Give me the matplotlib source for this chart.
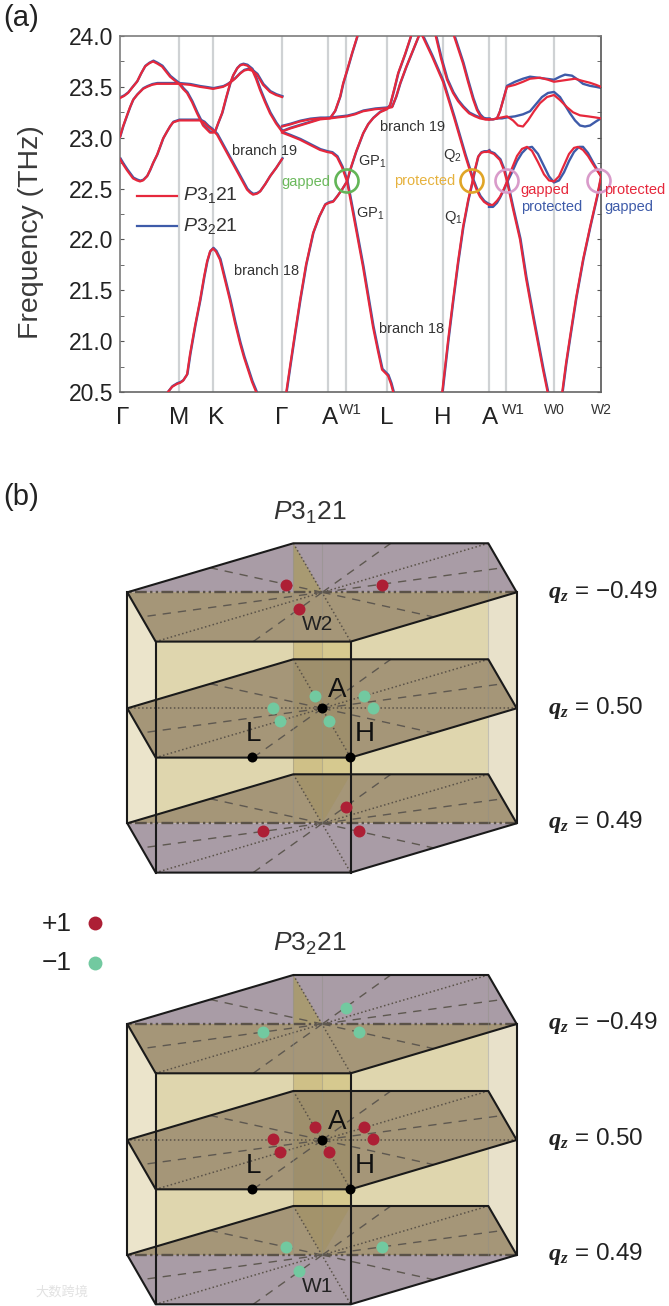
import matplotlib
matplotlib.use("Agg")
import matplotlib.pyplot as plt
from matplotlib.patches import Circle, Polygon
from matplotlib.ticker import MultipleLocator
from matplotlib.transforms import ScaledTranslation, offset_copy

plt.rcParams['font.family'] = ['Liberation Sans', 'Noto Sans CJK SC']
plt.rcParams['mathtext.fontset'] = 'custom'
plt.rcParams['mathtext.rm'] = 'Liberation Sans'
plt.rcParams['mathtext.it'] = 'Liberation Sans:italic'
plt.rcParams['mathtext.bfit'] = 'Liberation Serif:italic:bold'

RED = '#e6283c'
BLUE = '#3e5ba9'
DOT_RED = '#ad1f35'
DOT_GREEN = '#72c9a0'

# k-path positions of the high symmetry points
sym_x = [0, 59, 93, 162, 208, 226, 267, 323, 369, 386, 434, 481]
tick_x = [0, 59, 93, 162, 208, 267, 323, 369]
tick_names = ['Γ', 'M', 'K', 'Γ', 'A', 'L', 'H', 'A']

# Γ-M-K-Γ
low_x = [0, 3, 7, 10, 13, 17, 20, 23, 27, 30, 33, 37, 40, 43, 47, 50, 53, 59, 70, 80, 84, 88, 92, 97, 102, 107, 112, 117, 122, 127, 130, 133, 137, 140, 145, 150, 156, 162]
low_f = [22.79, 22.74, 22.68, 22.64, 22.60, 22.58, 22.57, 22.58, 22.62, 22.68, 22.75, 22.83, 22.91, 22.99, 23.06, 23.11, 23.15, 23.17, 23.17, 23.17, 23.15, 23.11, 23.08, 23.03, 22.94, 22.85, 22.76, 22.67, 22.58, 22.49, 22.46, 22.44, 22.45, 22.47, 22.54, 22.62, 22.70, 22.79]
mid_x = [0, 3, 7, 10, 13, 17, 20, 23, 27, 32, 37, 45, 59, 70, 80, 87, 93, 98, 103, 107, 110, 115, 120, 124, 128, 132, 137, 140, 143, 147, 150, 156, 162]
mid_f = [23.01, 23.11, 23.22, 23.30, 23.37, 23.42, 23.45, 23.48, 23.50, 23.52, 23.53, 23.53, 23.53, 23.52, 23.50, 23.49, 23.48, 23.49, 23.50, 23.52, 23.54, 23.58, 23.63, 23.66, 23.67, 23.66, 23.62, 23.57, 23.52, 23.48, 23.45, 23.42, 23.40]
top_x = [0, 4, 8, 12, 17, 21, 25, 29, 33, 37, 42, 46, 50, 55, 59, 63, 67, 72, 77, 80, 83, 87, 90, 93, 95, 98, 102, 106, 110, 113, 117, 120, 123, 127, 132, 136, 140, 145, 150, 156, 162]
top_f = [23.39, 23.41, 23.44, 23.49, 23.55, 23.63, 23.70, 23.73, 23.75, 23.73, 23.70, 23.65, 23.60, 23.56, 23.53, 23.48, 23.44, 23.35, 23.24, 23.18, 23.12, 23.08, 23.05, 23.05, 23.06, 23.14, 23.24, 23.39, 23.53, 23.61, 23.68, 23.71, 23.72, 23.71, 23.67, 23.58, 23.47, 23.35, 23.24, 23.14, 23.06]
peak_x = [48, 52, 57, 60, 63, 67, 70, 75, 80, 84, 87, 90, 93, 96, 100, 105, 110, 115, 120, 124, 128, 132, 137]
peak_f = [20.50, 20.55, 20.58, 20.59, 20.61, 20.67, 20.87, 21.15, 21.40, 21.63, 21.78, 21.88, 21.91, 21.88, 21.80, 21.60, 21.40, 21.18, 20.98, 20.84, 20.72, 20.60, 20.48]

# Γ-A-W1-L-H-A
up1_x = [162, 170, 180, 190, 200, 210, 215, 220, 223, 227, 232, 238]
up1_f = [23.06, 23.09, 23.12, 23.15, 23.18, 23.19, 23.26, 23.40, 23.53, 23.66, 23.83, 24.02]
up2_x = [162, 170, 180, 190, 200, 210, 218, 227, 235, 243, 255, 267, 272, 276, 280, 286, 293, 300]
up2_f = [23.11, 23.13, 23.16, 23.18, 23.19, 23.19, 23.20, 23.21, 23.23, 23.26, 23.28, 23.29, 23.30, 23.40, 23.53, 23.69, 23.86, 24.03]
down_x = [162, 170, 180, 190, 200, 207, 212, 217, 222, 227, 233, 243, 253, 258, 262, 265, 268, 271, 274]
down_f = [23.05, 23.02, 22.98, 22.93, 22.88, 22.86, 22.85, 22.81, 22.71, 22.57, 22.26, 21.73, 21.14, 20.90, 20.72, 20.69, 20.66, 20.58, 20.47]
rise_x = [166, 170, 175, 180, 186, 193, 199, 205, 209, 213, 217, 222, 227, 230, 236, 243, 248, 253, 260, 267, 270, 274, 278, 285, 292]
rise_f = [20.48, 20.75, 21.08, 21.40, 21.75, 22.06, 22.22, 22.34, 22.36, 22.37, 22.42, 22.49, 22.57, 22.68, 22.86, 23.04, 23.13, 23.19, 23.25, 23.28, 23.32, 23.47, 23.63, 23.82, 24.03]
fall1_x = [301, 312, 323, 334, 345, 353, 357, 360, 364, 367, 369]
fall1_f = [24.03, 23.80, 23.55, 23.20, 22.83, 22.58, 22.48, 22.42, 22.37, 22.35, 22.34]
fall2_x = [315, 321, 327, 333, 338, 343, 349, 355, 360, 365, 369]
fall2_f = [24.03, 23.78, 23.57, 23.44, 23.36, 23.30, 23.24, 23.21, 23.19, 23.18, 23.18]
fall3_x = [333, 338, 343, 348, 353, 357, 360, 363, 366, 369]
fall3_f = [24.03, 23.88, 23.73, 23.55, 23.38, 23.27, 23.22, 23.19, 23.18, 23.18]
hrise_x = [322, 328, 333, 338, 343, 348, 352, 355, 358, 361, 364, 367, 369]
hrise_f = [20.48, 21.00, 21.40, 21.78, 22.12, 22.38, 22.55, 22.69, 22.81, 22.85, 22.86, 22.86, 22.87]

# A-W1-W0-W2, the two structures split here
a_down_x = [369, 374, 380, 384, 387, 393, 400, 406, 413, 418, 423, 428]
a_down_f = [22.86, 22.84, 22.78, 22.68, 22.57, 22.30, 22.00, 21.62, 21.24, 20.98, 20.72, 20.48]
w_rise_x = [442, 446, 450, 456, 463, 470, 477, 481]
w_rise_f = [20.48, 20.78, 21.04, 21.42, 21.80, 22.12, 22.42, 22.62]

wave_red_x = [369, 373, 377, 380, 384, 387, 392, 397, 402, 407, 412, 418, 424, 429, 434, 439, 444, 449, 454, 458, 463, 468, 473, 477, 481]
wave_red_f = [22.34, 22.34, 22.38, 22.42, 22.50, 22.57, 22.70, 22.82, 22.89, 22.91, 22.87, 22.76, 22.64, 22.58, 22.57, 22.62, 22.73, 22.84, 22.90, 22.91, 22.88, 22.82, 22.74, 22.68, 22.62]
wave_blue_x = [369, 373, 377, 380, 384, 387, 392, 397, 402, 407, 412, 418, 424, 429, 434, 439, 444, 449, 454, 459, 463, 468, 473, 477, 481]
wave_blue_f = [22.32, 22.32, 22.36, 22.41, 22.49, 22.56, 22.66, 22.77, 22.85, 22.90, 22.91, 22.84, 22.72, 22.62, 22.56, 22.58, 22.66, 22.77, 22.86, 22.91, 22.91, 22.85, 22.76, 22.69, 22.62]
up_red_x = [369, 373, 377, 380, 384, 387, 395, 403, 410, 420, 428, 434, 441, 448, 455, 462, 470, 476, 481]
up_red_f = [23.18, 23.18, 23.19, 23.26, 23.40, 23.50, 23.52, 23.55, 23.58, 23.59, 23.57, 23.55, 23.56, 23.57, 23.58, 23.56, 23.54, 23.52, 23.50]
up_blue_x = [369, 373, 377, 380, 384, 387, 395, 403, 410, 418, 426, 434, 440, 445, 452, 458, 463, 470, 476, 481]
up_blue_f = [23.18, 23.18, 23.19, 23.26, 23.40, 23.51, 23.55, 23.58, 23.60, 23.59, 23.58, 23.57, 23.60, 23.62, 23.61, 23.57, 23.53, 23.51, 23.50, 23.49]
low2_red_x = [377, 382, 387, 393, 398, 403, 408, 414, 420, 427, 434, 440, 447, 453, 460, 468, 475, 481]
low2_red_f = [23.19, 23.20, 23.21, 23.17, 23.12, 23.11, 23.17, 23.26, 23.34, 23.40, 23.42, 23.37, 23.30, 23.25, 23.22, 23.21, 23.20, 23.19]
low2_blue_x = [377, 382, 387, 395, 403, 410, 416, 422, 428, 434, 440, 445, 450, 455, 460, 465, 470, 476, 481]
low2_blue_f = [23.19, 23.19, 23.20, 23.21, 23.23, 23.26, 23.33, 23.40, 23.44, 23.45, 23.40, 23.32, 23.24, 23.17, 23.12, 23.11, 23.12, 23.16, 23.19]

shared_bands = [(low_x, low_f), (mid_x, mid_f), (top_x, top_f), (peak_x, peak_f),
                (up1_x, up1_f), (up2_x, up2_f), (down_x, down_f), (rise_x, rise_f),
                (fall1_x, fall1_f), (fall2_x, fall2_f), (fall3_x, fall3_f), (hrise_x, hrise_f),
                (a_down_x, a_down_f), (w_rise_x, w_rise_f)]
blue_bands = [(wave_blue_x, wave_blue_f), (up_blue_x, up_blue_f), (low2_blue_x, low2_blue_f)]
red_bands = [(wave_red_x, wave_red_f), (up_red_x, up_red_f), (low2_red_x, low2_red_f)]

# Weyl points and high symmetry points on the Brillouin zone sketches (pixels)
p1_plus_x = [285.7, 381.7, 298.7, 262.7, 345.7, 359.3]
p1_plus_y = [584.7, 584.7, 609.0, 831.3, 806.7, 831.3]
p1_minus_x = [272.7, 280.3, 315.3, 364.3, 372.7, 329.0]
p1_minus_y = [708.0, 720.7, 695.7, 695.7, 708.3, 720.7]
p2_plus_x = [272.7, 280.3, 315.3, 364.3, 372.7, 329.0]
p2_plus_y = [1139.3, 1152.0, 1126.7, 1126.7, 1139.3, 1152.0]
p2_minus_x = [262.7, 345.7, 359.3, 286.0, 382.0, 298.7]
p2_minus_y = [1032.3, 1007.7, 1032.3, 1246.7, 1246.7, 1270.7]
sym_dot_x = [322.3, 251.7, 350.0]
p1_sym_y = [708.3, 757.3, 757.3]
p2_sym_y = [1140.0, 1189.0, 1189.0]
qz_names = ['−0.49', '0.50', '0.49']
p1_qz_y = [592, 708, 822]
p2_qz_y = [1023, 1139, 1254]

# hexagon corners: back left, back right, right, front right, front left, left
HEX_X = [293.3, 488.3, 516.7, 350.7, 155.7, 127.3]
HEX_DY = [0, 0, 49, 98.3, 98.3, 49]
CX = 322.3

fig = plt.figure(figsize=(6.69, 13.06), dpi=100)
ax = fig.add_axes([120 / 669, 1 - 392 / 1306, 481 / 669, 356 / 1306])
over = fig.add_axes([0, 0, 1, 1], zorder=5)
over.set_xlim(0, 669)
over.set_ylim(1306, 0)
over.axis('off')

# band panel
blue_trans = offset_copy(ax.transData, fig=fig, x=0.35, y=0.55, units='points')
for x in sym_x[1:-1]:
    ax.axvline(x, color='#cfd2d4', lw=1.6, zorder=1)
for x, f in shared_bands:
    ax.plot(x, f, color=BLUE, lw=1.7, transform=blue_trans, zorder=2)
for x, f in blue_bands:
    ax.plot(x, f, color=BLUE, lw=1.7, zorder=2)
for x, f in shared_bands + red_bands:
    ax.plot(x, f, color=RED, lw=1.6, zorder=3)

ax.set_xlim(0, 481)
ax.set_ylim(20.5, 24.0)
ax.set_xticks(tick_x)
ax.set_xticklabels(tick_names, fontsize=17.5, color='#222222')
ax.yaxis.set_major_locator(MultipleLocator(0.5))
ax.yaxis.set_minor_locator(MultipleLocator(0.25))
ax.tick_params(axis='x', length=0, pad=11)
ax.tick_params(axis='y', which='both', direction='in', left=True, right=True, length=3,
               color='#555555', labelsize=16.5, labelcolor='#222222', pad=5)
ax.set_yticks([20.5, 21, 21.5, 22, 22.5, 23, 23.5, 24])
ax.set_yticklabels(['20.5', '21.0', '21.5', '22.0', '22.5', '23.0', '23.5', '24.0'])
for name, sp in ax.spines.items():
    sp.set_color('#7d7d7d')
    sp.set_linewidth(1.2)
ax.spines['right'].set_color('#555555')
ax.spines['bottom'].set_color('#666666')
# some labels sit a little right of their lines
for lab, dx in zip(ax.get_xticklabels(), [3, 0, 3, 0, 2, 0, 0, 1]):
    lab.set_transform(lab.get_transform() + ScaledTranslation(dx / 100, 0, fig.dpi_scale_trans))

over.text(3, 18, '(a)', fontsize=21, va='center', color='#222222')
over.text(3, 497, '(b)', fontsize=21, va='center', color='#222222')
over.text(31, 232, 'Frequency (THz)', fontsize=20.5, rotation=90, ha='center', va='center', color='#3a3a3a')

over.plot([137, 177], [196, 196], color=RED, lw=1.6)
over.plot([137, 177], [226, 226], color=BLUE, lw=1.6)
over.text(183, 195, r'$\mathit{P}$3$_{\mathrm{1}}$21', fontsize=14, va='center', color='#333333')
over.text(183, 226, r'$\mathit{P}$3$_{\mathrm{2}}$21', fontsize=14, va='center', color='#333333')

for x, y, s in [(265, 151, 'branch 19'), (267, 271, 'branch 18'), (413, 127, 'branch 19'), (412, 329, 'branch 18')]:
    over.text(x, y, s, fontsize=10.5, ha='center', va='center', color='#333333')
for x, y, s in [(372, 162, 'GP$_{\\mathrm{1}}$'), (370, 214, 'GP$_{\\mathrm{1}}$'), (452, 156, 'Q$_{\\mathrm{2}}$'), (453, 217, 'Q$_{\\mathrm{1}}$')]:
    over.text(x, y, s, fontsize=10.5, ha='center', va='center', color='#333333')
over.text(306, 182, 'gapped', fontsize=10.5, ha='center', va='center', color='#6bb95c')
over.text(425, 181, 'protected', fontsize=10.5, ha='center', va='center', color='#e6b23e')
over.text(545, 190, 'gapped', fontsize=10.5, ha='center', va='center', color=RED)
over.text(552, 207, 'protected', fontsize=10.5, ha='center', va='center', color=BLUE)
over.text(635, 190, 'protected', fontsize=10.5, ha='center', va='center', color=RED)
over.text(629, 207, 'gapped', fontsize=10.5, ha='center', va='center', color=BLUE)

for x, col in [(347, '#63b557'), (472, '#e0a526'), (507, '#d99bca'), (599, '#d99bca')]:
    over.add_patch(Circle((x, 181), 11.5, fill=False, ec=col, lw=1.9))

for x, y, s, size in [(350, 410, 'W1', 11), (513, 410, 'W1', 11), (554, 410, 'W0', 10), (601, 410, 'W2', 10)]:
    over.text(x, y, s, fontsize=size, ha='center', va='center', color='#333333')


def draw_face(y0, kind):
    pts = [(x, y0 + d) for x, d in zip(HEX_X, HEX_DY)]
    bl, br, r, fr, fl, l = pts
    ymid = y0 + 49
    c = (CX, ymid)
    purple = '#a99ca6'
    brown = '#a59678'
    if kind == 'top':
        over.add_patch(Polygon([l, bl, br, r], fc=purple, ec='none', zorder=2))
        over.add_patch(Polygon([bl, c, (bl[0], ymid)], fc='#a89a72', ec='none', zorder=2))
        over.add_patch(Polygon([l, r, fr, fl], fc=brown, ec='none', zorder=2))
    elif kind == 'mid':
        over.add_patch(Polygon(pts, fc=brown, ec='none', zorder=2))
        over.add_patch(Polygon([bl, (fr[0], y0), fr, (bl[0], fr[1])], fc='#9e8f6c', ec='none', zorder=2))
    else:
        over.add_patch(Polygon([l, bl, br, r], fc=brown, ec='none', zorder=2))
        over.add_patch(Polygon([bl, (fr[0], y0), c], fc='#a3936b', ec='none', zorder=2))
        over.add_patch(Polygon([l, r, fr, fl], fc=purple, ec='none', zorder=2))

    # zone lines through the centre
    for i in range(3):
        a, b = pts[i], pts[i + 3]
        if i == 2:
            ls = (0, (5, 1.4, 1, 1.4, 1, 1.4)) if kind != 'mid' else (0, (1, 1.6))
            over.plot([a[0], b[0] + (l[0] - b[0])], [ymid, ymid], color='#5a5248', ls=ls,
                      lw=1.7 if kind != 'mid' else 1.1, zorder=3)
        else:
            over.plot([a[0], b[0]], [a[1], b[1]], color='#5a5248', ls=(0, (1, 1.6)), lw=1.1, zorder=3)
    # dashed lines to the edge midpoints
    for i in range(6):
        p, q = pts[i], pts[(i + 1) % 6]
        m = ((p[0] + q[0]) / 2, (p[1] + q[1]) / 2)
        over.plot([CX, m[0]], [ymid, m[1]], color='#5e5850', ls=(0, (6, 5)), lw=1.0, zorder=3)
    over.add_patch(Polygon(pts, fill=False, ec='#1a1a1a', lw=1.5, joinstyle='round', zorder=4))


def draw_zone(y0, sym_y, plus_x, plus_y, minus_x, minus_y, qz_y):
    y1, y2 = y0 + 116, y0 + 231
    left, fl_x, fr_x, right = HEX_X[5], HEX_X[4], HEX_X[3], HEX_X[2]
    bl_x, br_x = HEX_X[0], HEX_X[1]
    # walls behind the faces
    over.add_patch(Polygon([(left, y0 + 49), (fl_x, y0 + 98), (fl_x, y2 + 98), (left, y2 + 49)], fc='#ebe4cb', ec='none', zorder=1))
    over.add_patch(Polygon([(fl_x, y0 + 49), (br_x, y0 + 49), (br_x, y2 + 49), (fl_x, y2 + 49)], fc='#dfd6ae', ec='none', zorder=1))
    over.add_patch(Polygon([(br_x, y0), (right, y0 + 49), (right, y2 + 49), (br_x, y2)], fc='#e8e1ca', ec='none', zorder=1))
    over.add_patch(Polygon([(bl_x, y0), (CX, y0), (CX, y2 + 49), (bl_x, y2 + 49)], fc='#cfc087', ec='none', zorder=1))
    over.add_patch(Polygon([(CX, y0), (fr_x, y0), (fr_x, y2 + 49), (CX, y2 + 49)], fc='#d6c98f', ec='none', zorder=1))
    draw_face(y0, 'top')
    draw_face(y1, 'mid')
    draw_face(y2, 'bot')
    # back edges show through
    for x in [bl_x, br_x, CX]:
        over.plot([x, x], [y0, y2 + 49], color='#8f8f86', lw=0.8, alpha=0.45, zorder=3)
    # front edges
    for x, a, b in [(left, y0 + 49, y2 + 49), (fl_x, y0 + 98.3, y2 + 98.3), (fr_x, y0 + 98.3, y2 + 98.3), (right, y0 + 49, y2 + 49)]:
        over.plot([x, x], [a, b], color='#1a1a1a', lw=1.5, zorder=4)
    over.plot(plus_x, plus_y, 'o', color=DOT_RED, ms=8.6, mew=0, zorder=6)
    over.plot(minus_x, minus_y, 'o', color=DOT_GREEN, ms=8.6, mew=0, zorder=6)
    over.plot(sym_dot_x, sym_y, 'o', color='black', ms=7.2, mew=0, zorder=6)
    over.text(337, sym_y[0] - 18, 'A', fontsize=20, ha='center', va='center', color='#111111', zorder=7)
    over.text(253, sym_y[1] - 23, 'L', fontsize=20, ha='center', va='center', color='#111111', zorder=7)
    over.text(365, sym_y[2] - 23, 'H', fontsize=20, ha='center', va='center', color='#111111', zorder=7)
    for y, s in zip(qz_y, qz_names):
        over.text(548, y, r'$\mathbfit{q}_{\mathbfit{z}}$ = ' + s, fontsize=17.5, va='center', color='#222222')


draw_zone(543.3, p1_sym_y, p1_plus_x, p1_plus_y, p1_minus_x, p1_minus_y, p1_qz_y)
draw_zone(975.0, p2_sym_y, p2_plus_x, p2_plus_y, p2_minus_x, p2_minus_y, p2_qz_y)

over.text(318, 625, 'W2', fontsize=15, ha='center', va='center', color='#222222', zorder=7)
over.text(318, 1287, 'W1', fontsize=15, ha='center', va='center', color='#222222', zorder=7)
over.text(310, 513, r'$\mathit{P}$3$_{\mathrm{1}}$21', fontsize=19, ha='center', va='center', color='#333333')
over.text(310, 944, r'$\mathit{P}$3$_{\mathrm{2}}$21', fontsize=19, ha='center', va='center', color='#333333')

over.text(57, 924, '+1', fontsize=19, ha='center', va='center', color='#222222')
over.text(57, 963, '−1', fontsize=19, ha='center', va='center', color='#222222')
over.plot([95], [923], 'o', color=DOT_RED, ms=10, mew=0)
over.plot([95], [963], 'o', color=DOT_GREEN, ms=10, mew=0)

over.text(62, 1292, '大数跨境', fontsize=9.5, ha='center', va='center', color='#e2e2e2')

fig.savefig('out.png', dpi=100)
